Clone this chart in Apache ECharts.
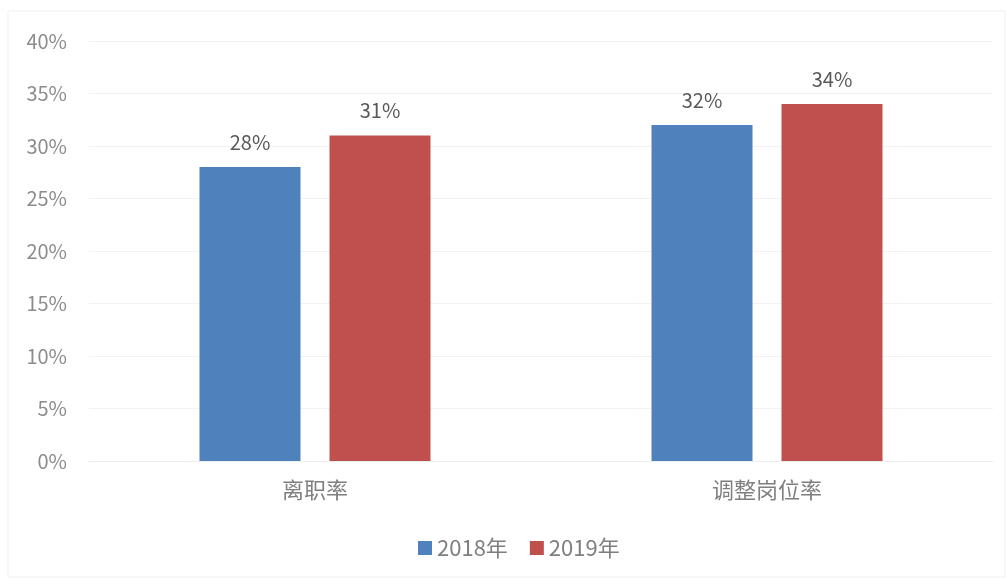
<!DOCTYPE html>
<html>
<head>
<meta charset="utf-8">
<script src="https://cdn.jsdelivr.net/npm/echarts@6/dist/echarts.min.js"></script>
<style>
  html, body { margin: 0; padding: 0; background: #fff; }
  #box { width: 1006px; height: 578px; }
</style>
</head>
<body>
<div id="box"></div>
<script>
const categories = ['离职率', '调整岗位率']
const seriesNames = ['2018年', '2019年']
const values2018 = [28, 32]
const values2019 = [31, 34]

const BLUE = '#4f81bd'
const RED = '#c0504d'
const FONT = '"Noto Sans CJK SC", "Noto Sans", sans-serif'

const myChart = echarts.init(document.getElementById('box'))

const barLabel = {
  show: true,
  position: 'top',
  distance: 15,
  color: '#595959',
  fontSize: 20,
  fontFamily: FONT,
  formatter: (p) => p.value + '%'
}

myChart.setOption({
  animation: false,
  backgroundColor: '#fff',
  textStyle: { fontFamily: FONT },
  graphic: [{
    type: 'rect',
    shape: { x: 8, y: 11, width: 997, height: 566 },
    style: { fill: 'none', stroke: '#f0f0f0', lineWidth: 1 },
    silent: true
  }],
  grid: { left: 89, right: 13, top: 41, bottom: 117 },
  legend: {
    bottom: 14,
    left: 413,
    itemWidth: 14,
    itemHeight: 14,
    itemGap: 22,
    icon: 'rect',
    textStyle: { color: '#7f7f7f', fontSize: 22, fontFamily: FONT },
    data: seriesNames
  },
  xAxis: {
    type: 'category',
    data: categories,
    axisLine: { show: true, lineStyle: { color: '#ededed', width: 1 } },
    axisTick: { show: false },
    axisLabel: { color: '#7f7f7f', fontSize: 22, margin: 18, fontFamily: FONT }
  },
  yAxis: {
    type: 'value',
    min: 0,
    max: 40,
    interval: 5,
    axisLine: { show: false },
    axisTick: { show: false },
    axisLabel: { color: '#8c8c8c', fontSize: 20, margin: 22, formatter: '{value}%', fontFamily: FONT },
    splitLine: { lineStyle: { color: '#f2f2f2', width: 1 } }
  },
  series: [
    {
      name: seriesNames[0],
      type: 'bar',
      data: values2018,
      barWidth: 101,
      barGap: '28.7%',
      itemStyle: { color: BLUE },
      label: barLabel
    },
    {
      name: seriesNames[1],
      type: 'bar',
      data: values2019,
      barWidth: 101,
      itemStyle: { color: RED },
      label: barLabel
    }
  ]
})
</script>
</body>
</html>
